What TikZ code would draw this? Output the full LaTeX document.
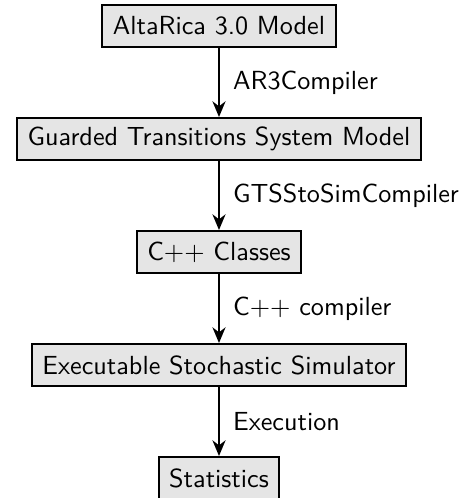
\documentclass[tikz,border=0pt]{standalone}
\usetikzlibrary{arrows.meta}
\begin{document}
\begin{tikzpicture}[x=0.382pt,y=-0.382pt,
  font=\sffamily,
  stage/.style={draw=black, fill=black!10, line width=0.8pt, minimum height=16pt, inner xsep=4pt},
  flow/.style={-{Stealth[length=6pt,width=5pt]}, line width=0.8pt},
  lbl/.style={right, inner xsep=5pt}]
\useasboundingbox (0,0) rectangle (469,498);
\node[stage] (a) at (219,26) {AltaRica 3.0 Model};
\node[stage] (b) at (219,139) {Guarded Transitions System Model};
\node[stage] (c) at (219,252) {C++ Classes};
\node[stage] (d) at (219,365) {Executable Stochastic Simulator};
\node[stage] (e) at (219,478) {Statistics};
\draw[flow] (a) -- node[lbl] {AR3Compiler} (b);
\draw[flow] (b) -- node[lbl] {GTSStoSimCompiler} (c);
\draw[flow] (c) -- node[lbl] {C++ compiler} (d);
\draw[flow] (d) -- node[lbl] {Execution} (e);
\end{tikzpicture}
\end{document}
